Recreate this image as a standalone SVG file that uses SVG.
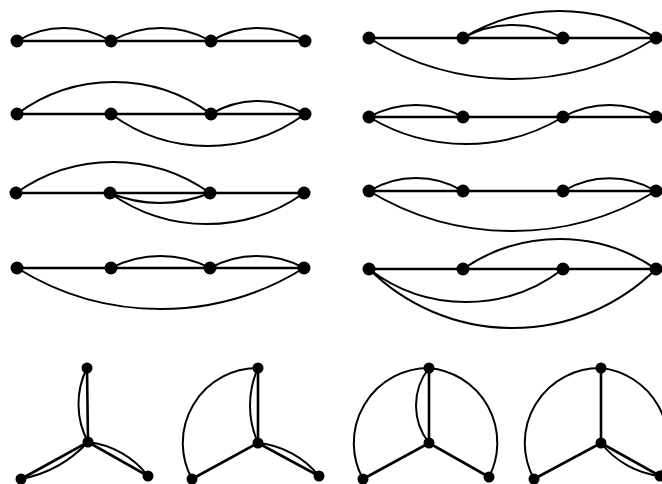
<svg xmlns="http://www.w3.org/2000/svg" width="662" height="484" viewBox="0 0 662 484">
<style>
.e{stroke:#000;stroke-width:2.6;fill:none;stroke-linecap:round}
.c{stroke:#000;stroke-width:2;fill:none}
.n{fill:#000}
.t{fill:#000}
</style>
<rect width="662" height="484" fill="#fff"/>
<g id="connectors">
<!-- left column -->
<path class="e" d="M17 41H305"/>
<path class="c" d="M17 41A91.5 91.5 0 0 1 111 41M111 41A102.7 102.7 0 0 1 211 41M211 41A91.5 91.5 0 0 1 305 41"/>
<path class="e" d="M17 114H305"/>
<path class="c" d="M17 114A163 163 0 0 1 211 114M211 114A91.5 91.5 0 0 1 305 114M111 114A163 163 0 0 0 305 114"/>
<path class="e" d="M16 193H304"/>
<path class="c" d="M16 193A167 167 0 0 1 210 193M110 193A130 130 0 0 0 210 193M110 193A167 167 0 0 0 304 193"/>
<path class="e" d="M17 268H304"/>
<path class="c" d="M111 268A108 108 0 0 1 210 268M210 268A98 98 0 0 1 304 268M17 268A271.6 271.6 0 0 0 304 268"/>
<!-- right column -->
<path class="e" d="M369 38H656"/>
<path class="c" d="M463 38A102.7 102.7 0 0 1 563 38M463 38A186 186 0 0 1 656 38M369 38A271.6 271.6 0 0 0 656 38"/>
<path class="e" d="M369 117H656"/>
<path class="c" d="M369 117A98 98 0 0 1 463 117M369 117A187.7 187.7 0 0 0 563 117M563 117A96 96 0 0 1 656 117"/>
<path class="e" d="M369 191H656"/>
<path class="c" d="M369 191A91.5 91.5 0 0 1 463 191M563 191A91.5 91.5 0 0 1 656 191M369 191A277 277 0 0 0 656 191"/>
<path class="e" d="M369 269H656"/>
<path class="c" d="M463 269A170 170 0 0 1 656 269M369 269A159 159 0 0 0 563 269M369 269A204 204 0 0 0 656 269"/>
<!-- trees -->
<path class="e" d="M87 368L88 442M21 479L88 442L148 476"/>
<path class="c" d="M87 368A80.5 80.5 0 0 0 88 442M88 442A123 123 0 0 1 21 479M88 442A88.5 88.5 0 0 1 148 476"/>
<path class="e" d="M258 368V443M192 479L258 443L319 476"/>
<path class="c" d="M258 368A92 92 0 0 0 258 443M258 443A88.5 88.5 0 0 1 319 476M258 368A75 75 0 0 0 192 479"/>
<path class="e" d="M429 368V443M363 479L429 443L489 477"/>
<path class="c" d="M429 368A60.6 60.6 0 0 0 429 443M429 368A75 75 0 0 0 363 479M429 368A75 75 0 0 1 489 477"/>
<path class="e" d="M601 368V443M534 479L601 443L660 476"/>
<path class="c" d="M601 443A88.5 88.5 0 0 0 660 476M601 368A75 75 0 0 0 534 479M601 368A75 75 0 0 1 660 476"/>
</g>
<g id="g-l1" class="n"><circle cx="17" cy="41" r="6.5"/><circle cx="111" cy="41" r="6.5"/><circle cx="211" cy="41" r="6.5"/><circle cx="305" cy="41" r="6.5"/></g>
<g id="g-l2" class="n"><circle cx="17" cy="114" r="6.5"/><circle cx="111" cy="114" r="6.5"/><circle cx="211" cy="114" r="6.5"/><circle cx="305" cy="114" r="6.5"/></g>
<g id="g-l3" class="n"><circle cx="16" cy="193" r="6.5"/><circle cx="110" cy="193" r="6.5"/><circle cx="210" cy="193" r="6.5"/><circle cx="304" cy="193" r="6.5"/></g>
<g id="g-l4" class="n"><circle cx="17" cy="268" r="6.5"/><circle cx="111" cy="268" r="6.5"/><circle cx="210" cy="268" r="6.5"/><circle cx="304" cy="268" r="6.5"/></g>
<g id="g-r1" class="n"><circle cx="369" cy="38" r="6.5"/><circle cx="463" cy="38" r="6.5"/><circle cx="563" cy="38" r="6.5"/><circle cx="656" cy="38" r="6.5"/></g>
<g id="g-r2" class="n"><circle cx="369" cy="117" r="6.5"/><circle cx="463" cy="117" r="6.5"/><circle cx="563" cy="117" r="6.5"/><circle cx="656" cy="117" r="6.5"/></g>
<g id="g-r3" class="n"><circle cx="369" cy="191" r="6.5"/><circle cx="463" cy="191" r="6.5"/><circle cx="563" cy="191" r="6.5"/><circle cx="656" cy="191" r="6.5"/></g>
<g id="g-r4" class="n"><circle cx="369" cy="269" r="6.5"/><circle cx="463" cy="269" r="6.5"/><circle cx="563" cy="269" r="6.5"/><circle cx="656" cy="269" r="6.5"/></g>
<g id="t1" class="n"><circle cx="87" cy="368" r="5.5"/><circle cx="88" cy="442" r="5.5"/><circle cx="21" cy="479" r="5.5"/><circle cx="148" cy="476" r="5.5"/></g>
<g id="t2" class="n"><circle cx="258" cy="368" r="5.5"/><circle cx="258" cy="443" r="5.5"/><circle cx="192" cy="479" r="5.5"/><circle cx="319" cy="476" r="5.5"/></g>
<g id="t3" class="n"><circle cx="429" cy="368" r="5.5"/><circle cx="429" cy="443" r="5.5"/><circle cx="363" cy="479" r="5.5"/><circle cx="489" cy="477" r="5.5"/></g>
<g id="t4" class="n"><circle cx="601" cy="368" r="5.5"/><circle cx="601" cy="443" r="5.5"/><circle cx="534" cy="479" r="5.5"/><circle cx="660" cy="476" r="5.5"/></g>
</svg>
